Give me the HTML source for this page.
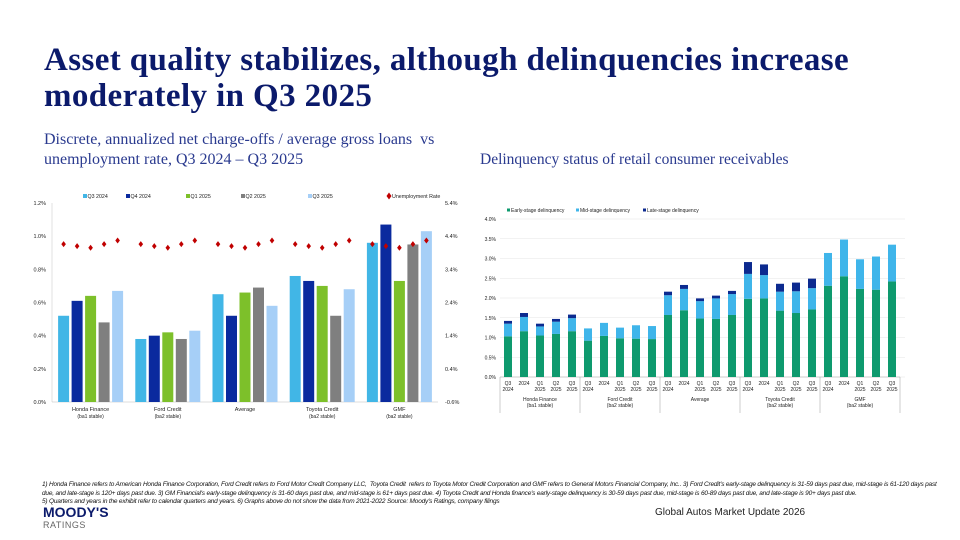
<!DOCTYPE html>
<html><head><meta charset="utf-8"><style>
body{margin:0;width:960px;height:540px;background:#fff;overflow:hidden;position:relative;font-family:"Liberation Sans",sans-serif}
.t{position:absolute;white-space:nowrap}
</style></head><body>
<div class="t" style="left:44px;top:42px;font:bold 33px/36px 'Liberation Serif',serif;color:#0b1a6b;letter-spacing:0.4px">Asset quality stabilizes, although delinquencies increase<br>moderately in Q3 2025</div>
<div class="t" style="left:44px;top:130px;font:16px/20px 'Liberation Serif',serif;color:#2a3a8f">Discrete, annualized net charge-offs / average gross loans&nbsp; vs<br>unemployment rate, Q3 2024 – Q3 2025</div>
<div class="t" style="left:480px;top:150px;font:15.5px/20px 'Liberation Serif',serif;color:#2a3a8f">Delinquency status of retail consumer receivables</div>
<svg id="c1" style="position:absolute;left:0;top:0" width="960" height="540"></svg>
<div class="t" style="left:42px;top:481px;font:italic 6.5px/8.5px 'Liberation Sans',sans-serif;color:#111;letter-spacing:-0.2px">1) Honda Finance refers to American Honda Finance Corporation, Ford Credit refers to Ford Motor Credit Company LLC,&nbsp; Toyota Credit&nbsp; refers to Toyota Motor Credit Corporation and GMF refers to General Motors Financial Company, Inc.. 3) Ford Credit's early-stage delinquency is 31-59 days past due, mid-stage is 61-120 days past<br>due, and late-stage is 120+ days past due. 3) GM Financial's early-stage delinquency is 31-60 days past due, and mid-stage is 61+ days past due. 4) Toyota Credit and Honda finance's early-stage delinquency is 30-59 days past due, mid-stage is 60-89 days past due, and late-stage is 90+ days past due.<br>5) Quarters and years in the exhibit refer to calendar quarters and years. 6) Graphs above do not show the data from 2021-2022 Source: Moody's Ratings, company filings</div>
<div class="t" style="left:43px;top:505px;font:bold 14px/14px 'Liberation Sans',sans-serif;color:#0b1a6b">MOODY'S</div>
<div class="t" style="left:43px;top:520px;font:9px/10px 'Liberation Sans',sans-serif;color:#666;letter-spacing:0.5px">RATINGS</div>
<div class="t" style="left:655px;top:506px;font:10px/13px 'Liberation Sans',sans-serif;color:#222">Global Autos Market Update 2026</div>
<script>
const groups1=["Honda Finance","Ford Credit","Average","Toyota Credit","GMF"];
const subs1=["(ba1 stable)","(ba2 stable)","","(ba2 stable)","(ba2 stable)"];
const series1Names=["Q3 2024","Q4 2024","Q1 2025","Q2 2025","Q3 2025"];
const q3_2024=[0.52,0.38,0.65,0.76,0.96];
const q4_2024=[0.61,0.40,0.52,0.73,1.07];
const q1_2025=[0.64,0.42,0.66,0.70,0.73];
const q2_2025=[0.48,0.38,0.69,0.52,0.95];
const q3_2025=[0.67,0.43,0.58,0.68,1.03];
const unemployment=[4.16,4.10,4.05,4.16,4.27];
const leftTicks=["0.0%","0.2%","0.4%","0.6%","0.8%","1.0%","1.2%"];
const rightTicks=["-0.6%","0.4%","1.4%","2.4%","3.4%","4.4%","5.4%"];

const periods2=[["Q3","2024"],["2024",""],["Q1","2025"],["Q2","2025"],["Q3","2025"]];
const early=[1.03,1.16,1.05,1.09,1.16, 0.92,1.04,0.98,0.97,0.96, 1.57,1.69,1.48,1.47,1.57, 1.98,1.99,1.68,1.62,1.71, 2.31,2.55,2.23,2.21,2.42];
const mid=[0.32,0.36,0.23,0.31,0.33, 0.31,0.33,0.27,0.34,0.33, 0.50,0.54,0.44,0.52,0.53, 0.63,0.59,0.48,0.55,0.54, 0.83,0.93,0.75,0.84,0.93];
const late=[0.07,0.10,0.07,0.07,0.09, 0,0,0,0,0, 0.09,0.10,0.07,0.07,0.08, 0.30,0.27,0.20,0.22,0.24, 0,0,0,0,0];
const ticks2=["0.0%","0.5%","1.0%","1.5%","2.0%","2.5%","3.0%","3.5%","4.0%"];

const NS="http://www.w3.org/2000/svg";
const svg=document.getElementById('c1');
function mk(tag,attrs,parent,text){const e=document.createElementNS(NS,tag);for(const k in attrs)e.setAttribute(k,attrs[k]);if(text!==undefined)e.textContent=text;(parent||svg).appendChild(e);return e;}

// ---- Chart 1
const L=52,R=438,T=203,B=402;
const yL=v=>B-(v/1.2)*(B-T);
const yR=v=>B-((v+0.6)/6)*(B-T);
const cols1=["#41b6e6","#0a2a9e","#7dc02a","#7f7f7f","#a6cff7"];
const all1=[q3_2024,q4_2024,q1_2025,q2_2025,q3_2025];
leftTicks.forEach((t,i)=>{const e=mk('text',{x:L-6,y:yL(i*0.2)+2,'font-size':5.5,'text-anchor':'end',fill:'#222'},svg,t);
});
rightTicks.forEach((t,i)=>{const e=mk('text',{x:445,y:yR(-0.6+i)+2,'font-size':5.5,fill:'#222'},svg,t);
});
mk('line',{x1:L,y1:T,x2:L,y2:B,stroke:'#ccc','stroke-width':0.6});
mk('line',{x1:L,y1:B,x2:R,y2:B,stroke:'#bbb','stroke-width':0.6});
const gw=(R-L)/groups1.length;
groups1.forEach((g,gi)=>{
  const cx=L+gw*(gi+0.5);
  all1.forEach((s,si)=>{const x=cx+(si-2)*13.5-5.5;const r=mk('rect',{x:x,y:yL(s[gi]),width:11,height:B-yL(s[gi]),fill:cols1[si]});
    });
  unemployment.forEach((u2,k)=>{const x=cx+(k-2)*13.5;const y=yR(unemployment[k]);
    const d=mk('path',{d:`M${x} ${y-3}L${x+2.3} ${y}L${x} ${y+3}L${x-2.3} ${y}Z`,fill:'#c00000'});
    });
  const tl=mk('text',{x:cx,y:B+9,'font-size':5.5,'text-anchor':'middle',fill:'#222'},svg,g);
  
  if(subs1[gi]){const s=mk('text',{x:cx,y:B+16,'font-size':5,'text-anchor':'middle',fill:'#222'},svg,subs1[gi]);
  }
});
const legX=[83,126,186,241,308];
series1Names.forEach((n,i)=>{const r=mk('rect',{x:legX[i],y:194,width:4,height:4,fill:cols1[i]});
  
  const t=mk('text',{x:legX[i]+4.5,y:198,'font-size':5.3,fill:'#222'},svg,n);
  });
mk('path',{d:'M389 192.5L391.5 196L389 199.5L386.5 196Z',fill:'#c00000'});
const ul=mk('text',{x:392,y:198,'font-size':5.3,fill:'#222'},svg,'Unemployment Rate');


// ---- Chart 2
const L2=500,R2=905,T2=219,B2=377;
const y2=v=>B2-(v/4)*(B2-T2);
ticks2.forEach((t,i)=>{const y=y2(i*0.5);mk('line',{x1:L2,y1:y,x2:R2,y2:y,stroke:'#e6e6e6','stroke-width':0.6});
  const e=mk('text',{x:L2-4,y:y+2,'font-size':5,'text-anchor':'end',fill:'#222'},svg,t);
  });
mk('line',{x1:L2,y1:B2,x2:L2+400,y2:B2,stroke:'#aaa','stroke-width':0.6});
const cols2=["#0e9a6e","#3fb5ea","#0c2a8f"];
const step=16;
early.forEach((e,i)=>{
  const cx=L2+step*(i+0.5),x=cx-4;
  let base=0;
  [[early[i],0,'early'],[mid[i],1,'mid'],[late[i],2,'late']].forEach(([v,c,n])=>{
    if(v>0){const r=mk('rect',{x:x,y:y2(base+v),width:8,height:y2(base)-y2(base+v),fill:cols2[c]});
    }
    base+=v;});
  const p=periods2[i%5];
  const a=mk('text',{x:cx,y:B2+8,'font-size':5,'text-anchor':'middle',fill:'#222'},svg,p[0]);
  
  if(p[1]){const b=mk('text',{x:cx,y:B2+14,'font-size':5,'text-anchor':'middle',fill:'#222'},svg,p[1]);
  }
});
for(let g=0;g<=5;g++){mk('line',{x1:L2+g*80,y1:B2,x2:L2+g*80,y2:413,stroke:'#aaa','stroke-width':0.6});}
groups1.forEach((g,gi)=>{const cx=L2+80*gi+40;
  const t=mk('text',{x:cx,y:B2+24,'font-size':5,'text-anchor':'middle',fill:'#222'},svg,g);
  
  if(subs1[gi]){const s=mk('text',{x:cx,y:B2+30,'font-size':5,'text-anchor':'middle',fill:'#222'},svg,subs1[gi]);
  }});
const leg2=[["Early-stage delinquency",507],["Mid-stage delinquency",576],["Late-stage delinquency",643]];
leg2.forEach(([n,x],i)=>{mk('rect',{x:x,y:208.5,width:3,height:3,fill:cols2[i]});
  const t=mk('text',{x:x+4,y:212,'font-size':5,fill:'#222'},svg,n);
  });
</script>
</body></html>
